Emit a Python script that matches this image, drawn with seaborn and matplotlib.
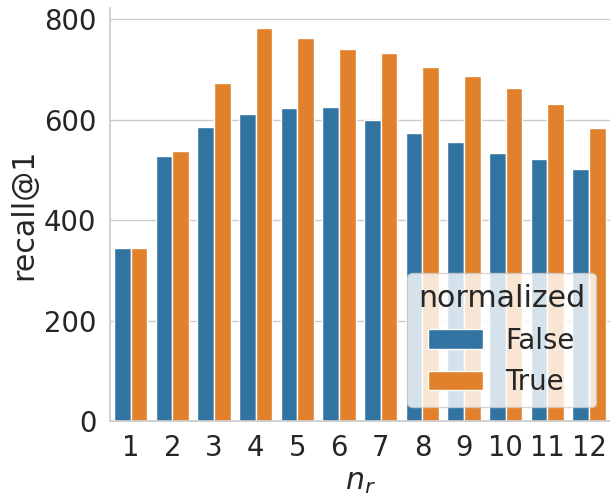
import matplotlib
matplotlib.use("Agg")
import matplotlib.pyplot as plt
import pandas as pd
import seaborn as sns

# --- DANE ---------------------------------------------------------------------

N_R          = [1, 2, 3, 4, 5, 6, 7, 8, 9, 10, 11, 12]
RECALL_FALSE = [345, 528, 585, 611, 623, 625, 599, 573, 555, 534, 521, 501]
RECALL_TRUE  = [345, 537, 673, 783, 763, 741, 733, 705, 687, 663, 631, 583]

df = pd.DataFrame({
    "n_r":        N_R * 2,
    "recall@1":   RECALL_FALSE + RECALL_TRUE,
    "normalized": [False] * len(N_R) + [True] * len(N_R),
})

# --- WYKRES -------------------------------------------------------------------

sns.set_theme(style="whitegrid", font_scale=1.8)
fig, ax = plt.subplots(figsize=(6.1, 4.93), dpi=100)

sns.barplot(data=df, x="n_r", y="recall@1", hue="normalized",
            palette=["#1f77b4", "#ff7f0e"], ax=ax)

ax.set_xlabel("$n_r$")
ax.set_ylabel("recall@1")
ax.set_yticks([0, 200, 400, 600, 800])
ax.legend(title="normalized", loc="lower right")
sns.despine()

fig.subplots_adjust(left=0.18, right=1.0, top=0.984, bottom=0.146)
fig.savefig("out.png")
